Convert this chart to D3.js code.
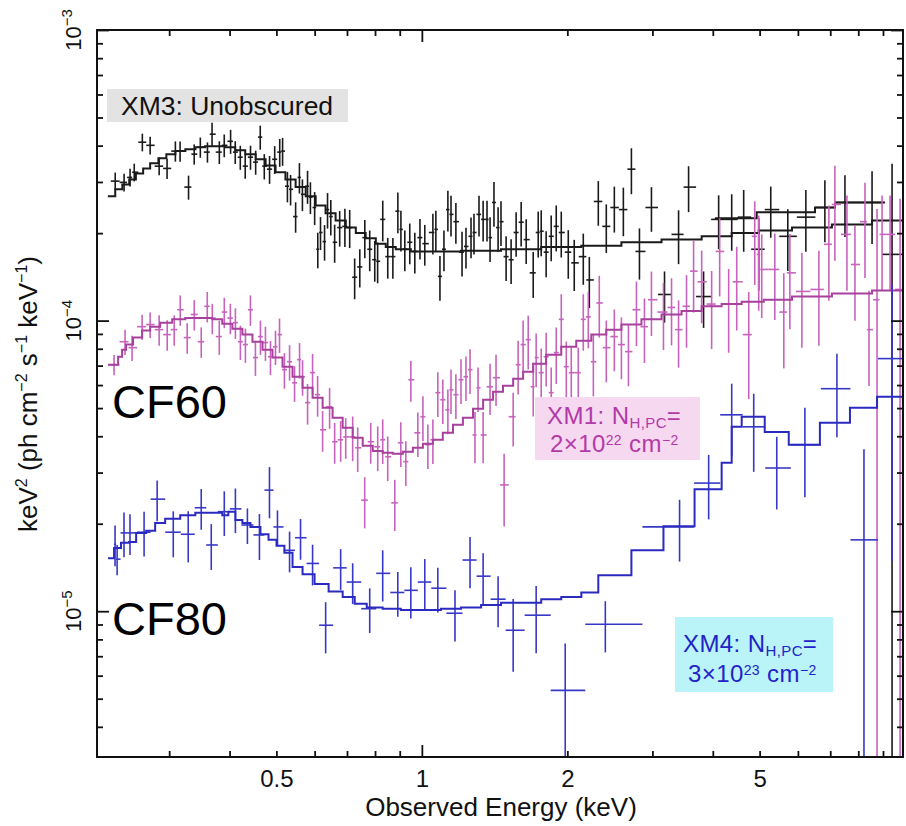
<!DOCTYPE html>
<html>
<head>
<meta charset="utf-8">
<script src="https://cdn.jsdelivr.net/npm/d3@7"></script>
<style>
  body { margin: 0; background: #fff; }
  svg text { font-family: 'Liberation Sans', Arial, Helvetica, sans-serif; }
</style>
</head>
<body>
<svg class="canvas" width="906" height="826"></svg>
<script>
// ---- data: [energy keV, keV^2 flux, fractional error] ----
const xm3Points = [
    [0.232, 3.02e-4, 0.07], [0.242, 2.99e-4, 0.07], [0.249, 3.11e-4, 0.07], [0.254, 3.24e-4, 0.07],
    [0.264, 4.11e-4, 0.07], [0.274, 4.01e-4, 0.07], [0.286, 3.40e-4, 0.07], [0.297, 3.34e-4, 0.08],
    [0.309, 3.83e-4, 0.08], [0.316, 3.83e-4, 0.08], [0.329, 2.88e-4, 0.095], [0.338, 3.74e-4, 0.08],
    [0.348, 3.95e-4, 0.08], [0.360, 3.80e-4, 0.08], [0.368, 4.38e-4, 0.095], [0.381, 3.80e-4, 0.09],
    [0.390, 4.01e-4, 0.09], [0.402, 4.14e-4, 0.095], [0.411, 3.80e-4, 0.09], [0.421, 3.65e-4, 0.095],
    [0.431, 3.40e-4, 0.095], [0.442, 3.65e-4, 0.095], [0.453, 3.51e-4, 0.095], [0.463, 4.28e-4, 0.095],
    [0.472, 3.40e-4, 0.10], [0.484, 3.32e-4, 0.11], [0.496, 3.59e-4, 0.11], [0.508, 3.80e-4, 0.11],
    [0.515, 3.83e-4, 0.11], [0.527, 2.90e-4, 0.12], [0.535, 2.83e-4, 0.12], [0.548, 2.28e-4, 0.12],
    [0.558, 3.11e-4, 0.12], [0.566, 2.72e-4, 0.125], [0.580, 2.90e-4, 0.13], [0.588, 2.66e-4, 0.125],
    [0.600, 2.45e-4, 0.13], [0.609, 1.76e-4, 0.14], [0.617, 2.01e-4, 0.13], [0.629, 1.87e-4, 0.14],
    [0.638, 2.41e-4, 0.14], [0.648, 2.28e-4, 0.14], [0.660, 1.86e-4, 0.15], [0.676, 2.09e-4, 0.14],
    [0.693, 2.11e-4, 0.15], [0.709, 2.09e-4, 0.15], [0.726, 1.41e-4, 0.16], [0.744, 1.53e-4, 0.15],
    [0.762, 1.93e-4, 0.15], [0.780, 1.76e-4, 0.16], [0.799, 1.62e-4, 0.16], [0.810, 1.60e-4, 0.16],
    [0.830, 2.23e-4, 0.16], [0.850, 1.66e-4, 0.16], [0.871, 1.66e-4, 0.16], [0.892, 2.38e-4, 0.16],
    [0.905, 2.06e-4, 0.16], [0.922, 1.76e-4, 0.16], [0.944, 1.86e-4, 0.16], [0.967, 1.73e-4, 0.16],
    [0.991, 1.93e-4, 0.16], [1.014, 1.84e-4, 0.16], [1.054, 2.01e-4, 0.16], [1.069, 2.06e-4, 0.16],
    [1.090, 1.42e-4, 0.175], [1.111, 1.76e-4, 0.16], [1.132, 2.41e-4, 0.16], [1.149, 2.32e-4, 0.16],
    [1.176, 2.19e-4, 0.16], [1.211, 1.72e-4, 0.175], [1.234, 1.80e-4, 0.16], [1.264, 1.95e-4, 0.16],
    [1.282, 2.01e-4, 0.16], [1.313, 2.32e-4, 0.16], [1.339, 2.23e-4, 0.16], [1.364, 2.23e-4, 0.16],
    [1.384, 1.93e-4, 0.175], [1.410, 2.55e-4, 0.175], [1.438, 2.09e-4, 0.175], [1.458, 2.19e-4, 0.175],
    [1.494, 1.66e-4, 0.175], [1.530, 1.62e-4, 0.175], [1.567, 2.01e-4, 0.175], [1.605, 2.18e-4, 0.175],
    [1.644, 1.90e-4, 0.175], [1.700, 1.46e-4, 0.18], [1.741, 2.01e-4, 0.18], [1.766, 2.03e-4, 0.18],
    [1.808, 1.72e-4, 0.18], [1.852, 1.95e-4, 0.18], [1.897, 2.11e-4, 0.18], [1.943, 2.01e-4, 0.18],
    [2.009, 1.72e-4, 0.19], [2.067, 1.58e-4, 0.20], [2.158, 1.66e-4, 0.20], [2.221, 1.38e-4, 0.20],
    [2.318, 2.57e-4, 0.175], [2.408, 2.11e-4, 0.19], [2.502, 2.45e-4, 0.18], [2.612, 2.41e-4, 0.19],
    [2.714, 3.32e-4, 0.18], [2.820, 1.73e-4, 0.20], [2.986, 2.45e-4, 0.175], [3.178, 1.23e-4, 0.20],
    [3.398, 1.98e-4, 0.21], [3.564, 2.88e-4, 0.18], [3.828, 1.21e-4, 0.22], [4.113, 2.23e-4, 0.21],
    [4.377, 2.23e-4, 0.22], [4.634, 2.27e-4, 0.24], [4.978, 1.76e-4, 0.28], [5.272, 2.41e-4, 0.20],
    [5.718, 1.95e-4, 0.24], [6.232, 2.27e-4, 0.24], [6.823, 2.45e-4, 0.24], [7.508, 2.55e-4, 0.24],
    [8.543, 2.55e-4, 0.28], [9.397, 1.69e-4, 1.05]
];
const xm3ModelEdges = [0.224, 0.232, 0.240, 0.248, 0.256, 0.265, 0.274, 0.285, 0.296, 0.309, 0.324, 0.340,
    0.356, 0.374, 0.392, 0.411, 0.431, 0.453, 0.475, 0.498, 0.522, 0.548, 0.575, 0.603, 0.632, 0.663, 0.696,
    0.730, 0.765, 0.803, 0.842, 0.883, 0.949, 1.044, 1.205, 1.458, 1.766, 2.138, 2.588, 3.133, 3.793, 4.377,
    4.978, 5.833, 7.056, 8.543, 9.9];
const xm3ModelFlux = [2.68e-4, 2.83e-4, 2.94e-4, 3.06e-4, 3.21e-4, 3.34e-4, 3.48e-4, 3.62e-4, 3.74e-4, 3.83e-4,
    3.89e-4, 3.95e-4, 3.98e-4, 3.98e-4, 3.95e-4, 3.86e-4, 3.74e-4, 3.59e-4, 3.42e-4, 3.24e-4, 3.06e-4, 2.88e-4,
    2.68e-4, 2.49e-4, 2.34e-4, 2.21e-4, 2.09e-4, 2.00e-4, 1.92e-4, 1.84e-4, 1.79e-4, 1.76e-4, 1.73e-4, 1.73e-4,
    1.74e-4, 1.76e-4, 1.79e-4, 1.81e-4, 1.86e-4, 1.90e-4, 1.95e-4, 2.00e-4, 2.04e-4, 2.09e-4, 2.14e-4, 2.21e-4];
const xm3Model2Edges = [4.04, 4.93, 6.51, 7.16, 9.09];
const xm3Model2Flux = [2.25e-4, 2.36e-4, 2.45e-4, 2.55e-4];

const xm1Points = [
    [0.2307, 7.05e-5, 0.08], [0.2431, 8.46e-5, 0.10], [0.2514, 8.07e-5, 0.10], [0.2637, 9.53e-5, 0.10],
    [0.2740, 9.69e-5, 0.10], [0.2860, 9.31e-5, 0.12], [0.2972, 8.95e-5, 0.12], [0.3073, 9.31e-5, 0.12],
    [0.3162, 1.09e-4, 0.12], [0.3269, 8.74e-5, 0.12], [0.3381, 1.05e-4, 0.12], [0.3495, 8.46e-5, 0.12],
    [0.3597, 1.12e-4, 0.12], [0.3684, 1.02e-4, 0.12], [0.3809, 8.81e-5, 0.135], [0.3901, 1.07e-4, 0.12],
    [0.4015, 1.02e-4, 0.12], [0.4113, 9.84e-5, 0.12], [0.4212, 8.46e-5, 0.135], [0.4314, 8.27e-5, 0.135],
    [0.4418, 1.09e-4, 0.12], [0.4525, 7.46e-5, 0.135], [0.4634, 8.81e-5, 0.135], [0.4746, 8.40e-5, 0.135],
    [0.4861, 7.51e-5, 0.135], [0.4979, 8.13e-5, 0.135], [0.5075, 8.95e-5, 0.135], [0.5195, 6.78e-5, 0.14],
    [0.5324, 7.22e-5, 0.14], [0.5452, 6.11e-5, 0.14], [0.5584, 7.34e-5, 0.14], [0.5664, 6.41e-5, 0.14],
    [0.5801, 5.22e-5, 0.16], [0.5941, 6.62e-5, 0.16], [0.6085, 5.56e-5, 0.16], [0.6232, 4.21e-5, 0.16],
    [0.6443, 5.05e-5, 0.16], [0.6600, 3.83e-5, 0.16], [0.6792, 3.89e-5, 0.16], [0.6957, 3.98e-5, 0.16],
    [0.7192, 3.98e-5, 0.175], [0.7366, 3.65e-5, 0.175], [0.7616, 2.41e-5, 0.20], [0.7838, 3.83e-5, 0.16],
    [0.8103, 3.68e-5, 0.175], [0.8298, 3.89e-5, 0.175], [0.8499, 3.40e-5, 0.175], [0.8790, 2.36e-5, 0.20],
    [0.9046, 3.80e-5, 0.175], [0.9264, 3.27e-5, 0.175], [0.9488, 6.26e-5, 0.16], [0.9811, 4.11e-5, 0.175],
    [1.005, 4.67e-5, 0.175], [1.029, 3.74e-5, 0.175], [1.054, 3.89e-5, 0.175], [1.079, 5.65e-5, 0.175],
    [1.105, 5.34e-5, 0.175], [1.132, 4.93e-5, 0.175], [1.149, 5.78e-5, 0.175], [1.176, 5.56e-5, 0.175],
    [1.205, 6.26e-5, 0.175], [1.234, 6.41e-5, 0.175], [1.258, 6.78e-5, 0.175], [1.288, 4.04e-5, 0.20],
    [1.307, 5.87e-5, 0.175], [1.339, 4.04e-5, 0.20], [1.384, 5.92e-5, 0.20], [1.424, 6.36e-5, 0.20],
    [1.480, 2.72e-5, 0.28], [1.545, 4.67e-5, 0.21], [1.582, 7.05e-5, 0.21], [1.620, 8.27e-5, 0.21],
    [1.660, 8.60e-5, 0.21], [1.700, 5.92e-5, 0.21], [1.724, 7.46e-5, 0.21], [1.766, 6.62e-5, 0.21],
    [1.808, 7.51e-5, 0.21], [1.852, 5.65e-5, 0.22], [1.897, 7.76e-5, 0.22], [1.943, 1.01e-4, 0.22],
    [1.990, 6.94e-5, 0.22], [2.038, 6.62e-5, 0.22], [2.107, 6.62e-5, 0.22], [2.158, 1.01e-4, 0.22],
    [2.210, 1.03e-4, 0.22], [2.264, 7.22e-5, 0.24], [2.329, 1.15e-4, 0.24], [2.408, 8.07e-5, 0.24],
    [2.502, 8.81e-5, 0.24], [2.588, 8.27e-5, 0.24], [2.676, 7.82e-5, 0.24], [2.780, 1.09e-4, 0.25],
    [2.888, 9.53e-5, 0.25], [2.986, 1.18e-4, 0.25], [3.162, 1.07e-4, 0.26], [3.286, 1.11e-4, 0.26],
    [3.398, 9.31e-5, 0.26], [3.529, 1.12e-4, 0.28], [3.650, 1.48e-4, 0.28], [3.793, 1.36e-4, 0.28],
    [3.978, 1.14e-4, 0.30], [4.133, 1.73e-4, 0.30], [4.314, 1.14e-4, 0.32], [4.483, 1.36e-4, 0.32],
    [4.747, 8.95e-5, 0.40], [4.885, 1.95e-4, 0.32], [4.978, 1.69e-4, 0.36], [5.050, 1.50e-4, 0.32],
    [5.375, 1.50e-4, 0.33], [5.610, 1.07e-4, 0.36], [5.775, 1.46e-4, 0.36], [6.115, 1.26e-4, 0.36],
    [6.631, 1.28e-4, 0.36], [6.954, 1.83e-4, 0.36], [7.156, 2.51e-4, 0.36], [7.579, 1.98e-4, 0.36],
    [7.874, 1.56e-4, 0.36], [8.260, 2.19e-4, 0.36], [8.420, 9.31e-5, 0.36], [8.748, 1.18e-4, 1.05],
    [8.960, 1.98e-4, 0.36], [9.309, 1.98e-4, 0.36], [9.763, 1.28e-4, 1.05]
];
const xm1ModelEdges = [0.2242, 0.2352, 0.2397, 0.2443, 0.2526, 0.2637, 0.2740, 0.2874, 0.3044, 0.3239, 0.3478,
    0.3684, 0.3864, 0.4054, 0.4252, 0.4461, 0.4680, 0.4908, 0.5148, 0.5400, 0.5664, 0.5941, 0.6232, 0.6536,
    0.6857, 0.7192, 0.7544, 0.7913, 0.8298, 0.8705, 0.9133, 0.9580, 1.005, 1.054, 1.105, 1.160, 1.216, 1.276,
    1.339, 1.404, 1.472, 1.545, 1.620, 1.700, 1.808, 1.943, 2.087, 2.242, 2.408, 2.588, 2.847, 3.133, 3.446,
    3.793, 4.172, 4.590, 5.099, 5.833, 7.056, 8.543, 9.9];
const xm1ModelFlux = [7.05e-5, 7.51e-5, 7.94e-5, 8.27e-5, 8.74e-5, 9.24e-5, 9.53e-5, 9.84e-5, 1.01e-4, 1.02e-4,
    1.02e-4, 1.01e-4, 9.76e-5, 9.38e-5, 8.95e-5, 8.46e-5, 7.94e-5, 7.46e-5, 6.94e-5, 6.41e-5,
    5.87e-5, 5.43e-5, 5.01e-5, 4.63e-5, 4.28e-5, 3.95e-5, 3.71e-5, 3.56e-5, 3.51e-5, 3.48e-5,
    3.54e-5, 3.65e-5, 3.77e-5, 3.89e-5, 4.11e-5, 4.38e-5, 4.63e-5, 4.97e-5, 5.34e-5, 5.69e-5,
    5.97e-5, 6.31e-5, 6.67e-5, 7.11e-5, 7.63e-5, 8.13e-5, 8.53e-5, 8.95e-5, 9.31e-5, 9.69e-5,
    1.01e-4, 1.05e-4, 1.08e-4, 1.12e-4, 1.14e-4, 1.16e-4, 1.18e-4, 1.21e-4, 1.24e-4, 1.27e-4];

const xm4Points = [
    [0.2318, 1.70e-5, 0.16], [0.2341, 1.51e-5, 0.12], [0.2419, 1.86e-5, 0.175], [0.2489, 1.86e-5, 0.16],
    [0.2662, 1.87e-5, 0.175], [0.2833, 2.43e-5, 0.16], [0.3059, 1.87e-5, 0.18], [0.3285, 1.84e-5, 0.20],
    [0.3495, 2.27e-5, 0.16], [0.3666, 1.69e-5, 0.18], [0.3901, 2.20e-5, 0.175], [0.4113, 2.25e-5, 0.175],
    [0.4355, 1.98e-5, 0.14], [0.4612, 1.83e-5, 0.18], [0.4838, 2.61e-5, 0.20], [0.5026, 1.95e-5, 0.14],
    [0.5324, 1.62e-5, 0.16], [0.5610, 1.79e-5, 0.16], [0.5941, 1.46e-5, 0.16], [0.6323, 8.95e-6, 0.20],
    [0.6792, 1.41e-5, 0.16], [0.7192, 1.26e-5, 0.16], [0.7800, 1.02e-5, 0.175], [0.8298, 1.35e-5, 0.20],
    [0.8917, 1.16e-5, 0.175], [0.9488, 1.18e-5, 0.20], [1.014, 1.26e-5, 0.20], [1.079, 1.20e-5, 0.175],
    [1.171, 9.84e-6, 0.20], [1.258, 1.50e-5, 0.20], [1.339, 1.32e-5, 0.20], [1.438, 1.10e-5, 0.20],
    [1.545, 8.60e-6, 0.28], [1.724, 9.69e-6, 0.26], [1.980, 5.34e-6, 0.45], [2.397, 9.02e-6, 0.20],
    [3.414, 1.95e-5, 0.24], [3.922, 2.76e-5, 0.25], [4.377, 4.74e-5, 0.28], [4.861, 4.31e-5, 0.30],
    [5.425, 3.11e-5, 0.28], [6.203, 3.74e-5, 0.34], [7.226, 5.83e-5, 0.32], [8.220, 1.76e-5, 1.05],
    [9.397, 7.40e-5, 0.80]
];
const xm4ModelEdges = [0.2242, 0.2307, 0.2385, 0.2478, 0.2563, 0.2689, 0.2806, 0.2943, 0.3162, 0.3398, 0.3666,
    0.3864, 0.3977, 0.4113, 0.4252, 0.4418, 0.4634, 0.4816, 0.5003, 0.5195, 0.5400, 0.5664, 0.5998, 0.6413,
    0.6857, 0.7262, 0.7691, 0.8298, 0.9046, 0.9952, 1.095, 1.205, 1.326, 1.458, 1.605, 1.766, 1.943, 2.138,
    2.318, 2.714, 3.162, 3.667, 4.172, 4.377, 4.590, 5.123, 5.744, 6.663, 7.689, 8.748, 9.9];
const xm4ModelFlux = [1.52e-5, 1.65e-5, 1.72e-5, 1.73e-5, 1.86e-5, 1.89e-5, 2.01e-5, 2.08e-5, 2.14e-5, 2.18e-5,
    2.18e-5, 2.14e-5, 2.20e-5, 2.06e-5, 2.01e-5, 1.95e-5, 1.84e-5, 1.76e-5, 1.68e-5, 1.59e-5,
    1.42e-5, 1.34e-5, 1.24e-5, 1.17e-5, 1.12e-5, 1.06e-5, 1.03e-5, 1.02e-5, 1.01e-5, 1.01e-5,
    1.02e-5, 1.03e-5, 1.05e-5, 1.07e-5, 1.07e-5, 1.10e-5, 1.12e-5, 1.16e-5, 1.33e-5, 1.62e-5,
    1.96e-5, 2.63e-5, 3.24e-5, 4.31e-5, 4.67e-5, 4.14e-5, 3.74e-5, 4.45e-5, 5.01e-5, 5.47e-5];

// axis ticks
const xMinorTicks = [0.3, 0.4, 0.5, 0.6, 0.7, 0.8, 0.9, 2, 3, 4, 5, 6, 7, 8, 9];
const xMajorTicks = [1];
const xLabelTicks = [0.5, 1, 2, 5];
const yMajorTicks = [1e-5, 1e-4, 1e-3];
const yMinorTicks = [4e-6, 5e-6, 6e-6, 7e-6, 8e-6, 9e-6, 2e-5, 3e-5, 4e-5, 5e-5, 6e-5, 7e-5, 8e-5, 9e-5,
    2e-4, 3e-4, 4e-4, 5e-4, 6e-4, 7e-4, 8e-4, 9e-4];

// ---- layout ----
const margin = { top: 30, right: 3, bottom: 69, left: 97 };
const graphWidth = 906 - margin.left - margin.right;
const graphHeight = 826 - margin.top - margin.bottom;
const yMin = 3.15e-6;

const svg = d3.select('.canvas');
const graph = svg.append('g')
    .attr('transform', `translate(${margin.left}, ${margin.top})`);

svg.append('defs').append('clipPath').attr('id', 'plot-area')
    .append('rect').attr('width', graphWidth).attr('height', graphHeight);

// scales
const x = d3.scaleLog().domain([0.2127, 9.9]).range([0, graphWidth]);
const y = d3.scaleLog().domain([yMin, 1e-3]).range([graphHeight, 0]);

const plot = graph.append('g').attr('clip-path', 'url(#plot-area)');

const stepLine = d3.line()
    .x(d => x(d[0]))
    .y(d => y(d[1]))
    .curve(d3.curveStepAfter);

const modelPoints = (edges, flux) => edges.map((e, i) => [e, flux[Math.min(i, flux.length - 1)]]);

const drawSpectrum = (points, color) => {
    const data = points.slice().sort((a, b) => a[0] - b[0]).map((p, i, arr) => {
        const prev = arr[i - 1], next = arr[i + 1];
        const lo = prev ? Math.sqrt(prev[0] * p[0]) : p[0] / Math.sqrt(next[0] / p[0]);
        const hi = next ? Math.sqrt(p[0] * next[0]) : p[0] * Math.sqrt(p[0] / prev[0]);
        return { e: p[0], f: p[1], r: p[2], lo, hi };
    });
    const g = plot.append('g').attr('stroke', color).attr('stroke-width', 1.6);
    g.selectAll('line.v').data(data).enter().append('line')
        .attr('class', 'v')
        .attr('x1', d => x(d.e)).attr('x2', d => x(d.e))
        .attr('y1', d => y(d.f * (1 + d.r)))
        .attr('y2', d => d.f * (1 - d.r) > yMin ? y(d.f * (1 - d.r)) : graphHeight + 5);
    g.selectAll('line.h').data(data).enter().append('line')
        .attr('class', 'h')
        .attr('x1', d => x(d.lo)).attr('x2', d => x(d.hi))
        .attr('y1', d => y(d.f)).attr('y2', d => y(d.f));
};

const drawModel = (edges, flux, color) => {
    plot.append('path')
        .datum(modelPoints(edges, flux))
        .attr('fill', 'none')
        .attr('stroke', color)
        .attr('stroke-width', 2)
        .attr('d', stepLine);
};

drawSpectrum(xm3Points, '#1a1a1a');
drawModel(xm3ModelEdges, xm3ModelFlux, '#1a1a1a');
drawModel(xm3Model2Edges, xm3Model2Flux, '#1a1a1a');

drawSpectrum(xm1Points, '#c763bd');
drawModel(xm1ModelEdges, xm1ModelFlux, '#a8409d');

drawSpectrum(xm4Points, '#3838c8');
drawModel(xm4ModelEdges, xm4ModelFlux, '#2a2ac0');

// ---- axes (ticks inward on all four sides) ----
const tickStyle = g => {
    g.select('.domain').remove();
    g.selectAll('line').attr('stroke', '#111').attr('stroke-width', 1.8);
};

const axes = [
    [d3.axisBottom, `translate(0, ${graphHeight})`, x, xMinorTicks, -6],
    [d3.axisBottom, `translate(0, ${graphHeight})`, x, xMajorTicks, -12],
    [d3.axisTop, 'translate(0, 0)', x, xMinorTicks, -6],
    [d3.axisTop, 'translate(0, 0)', x, xMajorTicks, -12],
    [d3.axisLeft, 'translate(0, 0)', y, yMinorTicks, -6],
    [d3.axisLeft, 'translate(0, 0)', y, yMajorTicks, -12],
    [d3.axisRight, `translate(${graphWidth}, 0)`, y, yMinorTicks, -6],
    [d3.axisRight, `translate(${graphWidth}, 0)`, y, yMajorTicks, -12]
];
axes.forEach(([axisFn, tr, scale, ticks, size]) => {
    graph.append('g')
        .attr('transform', tr)
        .call(axisFn(scale).tickValues(ticks).tickSize(size).tickFormat(''))
        .call(tickStyle);
});

graph.append('rect')
    .attr('width', graphWidth)
    .attr('height', graphHeight)
    .attr('fill', 'none')
    .attr('stroke', '#111')
    .attr('stroke-width', 2);

// x tick labels
graph.append('g')
    .attr('transform', `translate(0, ${graphHeight})`)
    .call(d3.axisBottom(x).tickValues(xLabelTicks).tickSize(0).tickPadding(13).tickFormat(d3.format('')))
    .call(g => g.select('.domain').remove())
    .selectAll('text')
        .attr('font-size', 24)
        .attr('fill', '#111')
        .style('font-family', "'Liberation Sans', Arial, sans-serif");

// y tick labels: rotated 10^n
const yLabels = graph.append('g').selectAll('text')
    .data(yMajorTicks)
    .enter()
    .append('text')
        .attr('transform', d => `translate(-16, ${y(d)}) rotate(-90)`)
        .attr('text-anchor', 'middle')
        .attr('font-size', 22)
        .attr('fill', '#111');
yLabels.append('tspan').text('10');
yLabels.append('tspan')
    .attr('dy', -9)
    .attr('font-size', 15)
    .text(d => '\u2212' + Math.round(-Math.log10(d)));

// axis titles
svg.append('text')
    .attr('x', 501)
    .attr('y', 816)
    .attr('text-anchor', 'middle')
    .attr('font-size', 26)
    .attr('fill', '#111')
    .text('Observed Energy (keV)');

const yTitle = svg.append('text')
    .attr('transform', 'translate(37, 394) rotate(-90)')
    .attr('text-anchor', 'middle')
    .attr('font-size', 26)
    .attr('fill', '#111');
[['keV', 0, 26], ['2', -10, 16], [' (ph cm', 10, 26], ['\u22122', -10, 16], [' s', 10, 26],
 ['\u22121', -10, 16], [' keV', 10, 26], ['\u22121', -10, 16], [')', 10, 26]]
    .forEach(([t, dy, fs]) => yTitle.append('tspan').attr('dy', dy).attr('font-size', fs).text(t));

// ---- annotations ----
svg.append('rect')
    .attr('x', 107).attr('y', 89).attr('width', 241).attr('height', 33)
    .attr('fill', '#e3e3e3');
svg.append('text')
    .attr('x', 121).attr('y', 115)
    .attr('font-size', 26.5)
    .attr('fill', '#111')
    .text('XM3: Unobscured');

svg.append('text').attr('x', 112).attr('y', 418).attr('font-size', 47).attr('fill', '#000').text('CF60');
svg.append('text').attr('x', 112).attr('y', 635).attr('font-size', 47).attr('fill', '#000').text('CF80');

const nhLabel = (bx, by, bw, bh, fill, color, line1x, line1y, line2x, line2y, name, mant, expo) => {
    svg.append('rect')
        .attr('x', bx).attr('y', by).attr('width', bw).attr('height', bh)
        .attr('fill', fill);
    const l1 = svg.append('text')
        .attr('x', line1x).attr('y', line1y)
        .attr('font-size', 24).attr('letter-spacing', 0.4).attr('fill', color);
    l1.append('tspan').text(name + ': N');
    l1.append('tspan').attr('dy', 4).attr('font-size', 15).text('H,PC');
    l1.append('tspan').attr('dy', -4).text('=');
    const l2 = svg.append('text')
        .attr('x', line2x).attr('y', line2y)
        .attr('font-size', 24).attr('letter-spacing', 0.4).attr('fill', color);
    l2.append('tspan').text(mant + '\u00d710');
    l2.append('tspan').attr('dy', -7).attr('font-size', 14).text(expo);
    l2.append('tspan').attr('dy', 7).text(' cm');
    l2.append('tspan').attr('dy', -7).attr('font-size', 14).text('\u22122');
};

nhLabel(535, 397, 165, 63, '#f6d8f0', '#b23aa6', 547, 424, 550, 452, 'XM1', '2', '22');
nhLabel(675, 617, 158, 75, '#baf3f8', '#2323c8', 683, 652, 688, 682, 'XM4', '3', '23');
</script>
</body>
</html>
